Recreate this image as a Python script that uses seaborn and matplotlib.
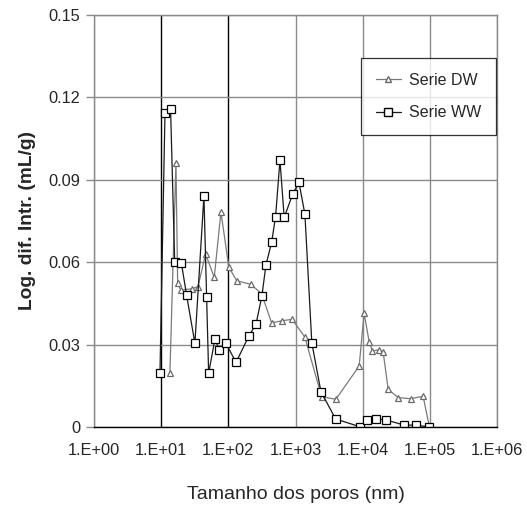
import numpy as np
import pandas as pd
import matplotlib
matplotlib.use("Agg")
import matplotlib.pyplot as plt
import seaborn as sns
from matplotlib.ticker import FixedLocator, FuncFormatter, LogLocator, NullFormatter
from matplotlib.lines import Line2D

# Data (pore size in nm, log differential intrusion in mL/g)
dw_x = [13.5, 16.6, 17.6, 19.5, 28.4, 35.3, 45.9, 61.7, 77.6, 102, 134, 215, 313, 441, 634,
        893, 1380, 2450, 3990, 8870, 10500, 12500, 14000, 17600, 20200, 24000, 33800, 51600,
        79500, 97700]
dw_y = [0.0198, 0.0962, 0.0524, 0.0499, 0.0503, 0.0511, 0.0630, 0.0545, 0.0782, 0.0581,
        0.0532, 0.0520, 0.0485, 0.0379, 0.0387, 0.0392, 0.0327, 0.0110, 0.0101, 0.0222,
        0.0414, 0.0310, 0.0276, 0.0282, 0.0272, 0.0137, 0.0107, 0.0103, 0.0112, 0.0004]

ww_x = [9.6, 11.4, 13.8, 15.9, 20.0, 23.9, 31.8, 43.3, 47.5, 50.9, 63.2, 73.3, 92.2, 130,
        203, 258, 316, 363, 441, 505, 587, 679, 906, 1125, 1380, 1750, 2390, 3960, 9120,
        11600, 15700, 22200, 41100, 62100, 97000]
ww_y = [0.0196, 0.1144, 0.1159, 0.0601, 0.0597, 0.0480, 0.0305, 0.0841, 0.0472, 0.0196,
        0.0320, 0.0280, 0.0305, 0.0235, 0.0332, 0.0374, 0.0477, 0.0590, 0.0672, 0.0766,
        0.0971, 0.0763, 0.0847, 0.0891, 0.0775, 0.0306, 0.0129, 0.0029, 0.0001, 0.0026,
        0.0029, 0.0026, 0.0007, 0.0007, 0.0000]

series_names = ["Serie DW", "Serie WW"]
x_ticks = [1e0, 1e1, 1e2, 1e3, 1e4, 1e5, 1e6]
y_ticks = [0, 0.03, 0.06, 0.09, 0.12, 0.15]

df = pd.concat([
    pd.DataFrame({"x": dw_x, "y": dw_y, "serie": series_names[0]}),
    pd.DataFrame({"x": ww_x, "y": ww_y, "serie": series_names[1]}),
], ignore_index=True)

sns.set_style("white")
plt.rcParams["font.family"] = ["Liberation Sans", "DejaVu Sans"]

fig = plt.figure(figsize=(5.27, 5.08), dpi=100)
ax = fig.add_axes([94 / 527, 1 - 427 / 508, (497 - 94) / 527, (427 - 15) / 508])

sns.lineplot(data=df, x="x", y="y", hue="serie", style="serie",
             palette={"Serie DW": "#7a7a7a", "Serie WW": "#1a1a1a"},
             markers={"Serie DW": "^", "Serie WW": "s"}, dashes=False,
             sort=False, estimator=None, linewidth=0.9, ax=ax, legend=False)

for line, (mk_ms, mec) in zip(ax.lines, [(4.5, "#6a6a6a"), (5.5, "#000000")]):
    line.set_markersize(mk_ms)
    line.set_markerfacecolor("white")
    line.set_markeredgecolor(mec)
    line.set_markeredgewidth(0.9)

ax.set_xscale("log")
ax.set_xlim(1e0, 1e6)
ax.set_ylim(0, 0.15)
ax.xaxis.set_major_locator(FixedLocator(x_ticks))
ax.xaxis.set_major_formatter(FuncFormatter(lambda v, p: "1.E+%02d" % int(round(np.log10(v)))))
ax.xaxis.set_minor_locator(LogLocator(base=10, subs=np.arange(2, 10), numticks=20))
ax.xaxis.set_minor_formatter(NullFormatter())
ax.yaxis.set_major_locator(FixedLocator(y_ticks))
ax.yaxis.set_major_formatter(FuncFormatter(lambda v, p: "0" if v == 0 else "%.2f" % v))

ax.grid(True, which="major", color="#8a8a8a", linewidth=1.0)
ax.set_axisbelow(True)
for i, g in enumerate(ax.get_xgridlines()):
    if i in (1, 2):
        g.set_color("#000000")

for s in ax.spines.values():
    s.set_color("#8a8a8a")
    s.set_linewidth(1.0)
ax.spines["bottom"].set_color("#000000")

ax.tick_params(axis="x", which="major", direction="inout", length=7, width=1, color="#000000",
               labelsize=11.8, pad=8)
ax.tick_params(axis="x", which="minor", direction="in", length=3.5, width=0.8, color="#000000")
ax.tick_params(axis="y", which="major", direction="out", length=6, width=1, color="#8a8a8a",
               labelsize=11.8, left=True, pad=4)

ax.set_xlabel("Tamanho dos poros (nm)", fontsize=14, labelpad=20)
ax.set_ylabel("Log. dif. Intr. (mL/g)", fontsize=13.8, fontweight="bold", labelpad=9)

handles = [
    Line2D([], [], color="#7a7a7a", marker="^", markersize=4.5, markerfacecolor="white",
           markeredgecolor="#6a6a6a", linewidth=0.9),
    Line2D([], [], color="#1a1a1a", marker="s", markersize=5.5, markerfacecolor="white",
           markeredgecolor="#000000", linewidth=0.9),
]
leg = ax.legend(handles, series_names, loc="upper right", bbox_to_anchor=(0.997, 0.895),
                frameon=True, fancybox=False, edgecolor="#000000", fontsize=11.5,
                handlelength=1.6, borderpad=0.9, labelspacing=1.1, handletextpad=0.5,
                borderaxespad=0.0)
leg.get_frame().set_linewidth(0.9)

fig.savefig("out.png", dpi=100, facecolor="white")
